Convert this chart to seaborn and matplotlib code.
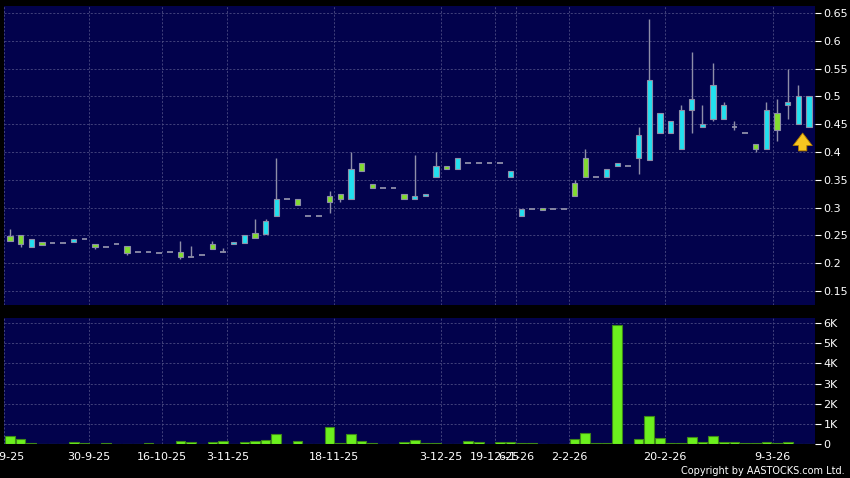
import numpy as np
import pandas as pd
import matplotlib
matplotlib.use('Agg')
from matplotlib import pyplot as plt
import seaborn as sns

# daily candles
opens = [0.249, 0.250, 0.230, 0.239, 0.236, 0.236, 0.238, 0.243, 0.234, 0.230,
         0.234, 0.231, 0.221, 0.221, 0.218, 0.220, 0.220, 0.211, 0.215, 0.234,
         0.221, 0.234, 0.237, 0.255, 0.252, 0.285, 0.315, 0.315, 0.285, 0.285,
         0.320, 0.325, 0.315, 0.380, 0.342, 0.335, 0.335, 0.325, 0.315, 0.320,
         0.355, 0.375, 0.370, 0.380, 0.380, 0.380, 0.380, 0.355, 0.285, 0.297,
         0.300, 0.297, 0.297, 0.345, 0.390, 0.355, 0.355, 0.375, 0.375, 0.390,
         0.385, 0.435, 0.435, 0.405, 0.475, 0.445, 0.460, 0.460, 0.445, 0.435,
         0.415, 0.405, 0.470, 0.485, 0.450, 0.445]
highs = [0.261, 0.250, 0.243, 0.239, 0.236, 0.236, 0.243, 0.243, 0.234, 0.230,
         0.234, 0.231, 0.221, 0.221, 0.218, 0.220, 0.240, 0.231, 0.215, 0.240,
         0.227, 0.238, 0.251, 0.280, 0.280, 0.390, 0.315, 0.315, 0.285, 0.285,
         0.330, 0.325, 0.400, 0.380, 0.342, 0.335, 0.335, 0.325, 0.395, 0.325,
         0.400, 0.375, 0.390, 0.380, 0.380, 0.380, 0.380, 0.365, 0.297, 0.297,
         0.300, 0.297, 0.297, 0.350, 0.405, 0.355, 0.370, 0.380, 0.375, 0.445,
         0.640, 0.470, 0.455, 0.485, 0.580, 0.485, 0.560, 0.490, 0.455, 0.435,
         0.415, 0.490, 0.495, 0.550, 0.520, 0.500]
lows = [0.240, 0.230, 0.230, 0.233, 0.236, 0.236, 0.238, 0.243, 0.226, 0.230,
        0.234, 0.215, 0.221, 0.221, 0.218, 0.220, 0.208, 0.211, 0.215, 0.226,
        0.221, 0.234, 0.237, 0.245, 0.252, 0.285, 0.315, 0.305, 0.285, 0.285,
        0.290, 0.310, 0.315, 0.365, 0.336, 0.335, 0.335, 0.315, 0.315, 0.320,
        0.355, 0.370, 0.370, 0.380, 0.380, 0.380, 0.380, 0.355, 0.285, 0.297,
        0.296, 0.297, 0.297, 0.320, 0.355, 0.355, 0.355, 0.375, 0.375, 0.360,
        0.385, 0.435, 0.435, 0.405, 0.435, 0.445, 0.455, 0.460, 0.440, 0.435,
        0.400, 0.405, 0.420, 0.460, 0.450, 0.445]
closes = [0.240, 0.235, 0.243, 0.233, 0.236, 0.236, 0.243, 0.243, 0.230, 0.230,
          0.234, 0.218, 0.221, 0.221, 0.218, 0.220, 0.211, 0.211, 0.215, 0.226,
          0.221, 0.238, 0.251, 0.245, 0.276, 0.315, 0.315, 0.305, 0.285, 0.285,
          0.310, 0.315, 0.370, 0.365, 0.336, 0.335, 0.335, 0.315, 0.320, 0.325,
          0.375, 0.370, 0.390, 0.380, 0.380, 0.380, 0.380, 0.365, 0.297, 0.297,
          0.296, 0.297, 0.297, 0.320, 0.355, 0.355, 0.370, 0.380, 0.375, 0.430,
          0.530, 0.470, 0.455, 0.475, 0.495, 0.450, 0.520, 0.485, 0.445, 0.435,
          0.405, 0.475, 0.440, 0.490, 0.500, 0.500]
volumes = [400, 250, 50, 0, 0, 0, 100, 50, 0, 70,
           15, 15, 0, 50, 20, 0, 170, 120, 0, 120,
           150, 0, 100, 170, 220, 520, 0, 170, 0, 0,
           850, 50, 520, 170, 50, 0, 0, 80, 220, 30,
           50, 20, 20, 150, 120, 0, 100, 120, 30, 50,
           15, 0, 0, 230, 550, 30, 30, 5920, 0, 270,
           1380, 320, 30, 50, 370, 120, 380, 100, 120, 50,
           50, 100, 70, 80, 0, 0]

date_labels = ['15-9-25', '30-9-25', '16-10-25', '3-11-25', '18-11-25', '3-12-25',
               '19-12-25', '6-1-26', '2-2-26', '20-2-26', '9-3-26']
date_pos = [-0.6, 7.4, 14.3, 20.4, 30.45, 40.45, 45.5, 47.5, 52.5, 61.5, 71.6]
price_ticks = [0.15, 0.2, 0.25, 0.3, 0.35, 0.4, 0.45, 0.5, 0.55, 0.6, 0.65]
price_labels = ['0.15', '0.2', '0.25', '0.3', '0.35', '0.4', '0.45', '0.5', '0.55', '0.6', '0.65']
vol_ticks = [0, 1000, 2000, 3000, 4000, 5000, 6000]
vol_labels = ['0', '1K', '2K', '3K', '4K', '5K', '6K']
arrow_at = 74.4  # marker under the latest candles

NAVY = '#02024c'
CYAN = '#22e0ef'
GREEN = '#82dc30'
EDGE = '#8e8ea8'
GRID = '#4a4a82'

sns.set_theme(style='dark', rc={'figure.facecolor': 'black', 'axes.facecolor': NAVY})
plt.rcParams['font.family'] = ['DejaVu Sans']

df = pd.DataFrame({'idx': np.arange(len(opens)), 'open': opens, 'high': highs,
                   'low': lows, 'close': closes, 'vol': volumes})

fig = plt.figure(figsize=(8.5, 4.78), dpi=100)
ax = fig.add_axes([3.5 / 850, 1 - 305 / 478, 811.5 / 850, 299 / 478])
axv = fig.add_axes([3.5 / 850, 1 - 444 / 478, 811.5 / 850, 126 / 478])

xlim = (-0.52, 75.56)

# wicks
ax.vlines(df['idx'], df['low'], df['high'], color=EDGE, lw=1, zorder=2)

up = df[df['close'] > df['open']]
dn = df[df['close'] < df['open']]
flat = df[df['close'] == df['open']]
ax.bar(up['idx'], up['close'] - up['open'], bottom=up['open'], width=0.5,
       color=CYAN, edgecolor=EDGE, linewidth=0.8, zorder=3)
ax.bar(dn['idx'], dn['open'] - dn['close'], bottom=dn['close'], width=0.5,
       color=GREEN, edgecolor=EDGE, linewidth=0.8, zorder=3)
ax.hlines(flat['open'], flat['idx'] - 0.27, flat['idx'] + 0.27, color=EDGE, lw=1.3, zorder=3)

ax.annotate('', xy=(arrow_at, 0.439), xytext=(arrow_at, 0.397),
            arrowprops=dict(arrowstyle='simple,head_width=1.15,head_length=0.75,tail_width=0.5',
                            fc='#f7c520', ec='#b07a00', lw=0.6), zorder=5)

sns.barplot(data=df, x='idx', y='vol', ax=axv, color='#6cf01e', width=0.9,
            edgecolor='#3e8a18', linewidth=0.8, saturation=1)

ax.set_ylim(0.1248, 0.6626)
axv.set_ylim(0, 6250)
for a in (ax, axv):
    a.set_xlim(*xlim)
    a.set_xticks(date_pos)
    a.grid(True, color=GRID, linestyle=(0, (2.5, 2)), linewidth=0.6)
    a.set_axisbelow(True)
    for s in a.spines.values():
        s.set_visible(False)
    a.yaxis.tick_right()
    a.tick_params(axis='y', colors='white', length=4, width=0.8, labelsize=8, pad=2, direction='out')
    a.set_xlabel('')
    a.set_ylabel('')

ax.set_yticks(price_ticks, price_labels)
ax.tick_params(axis='x', length=0, labelbottom=False)
axv.set_yticks(vol_ticks, vol_labels)
axv.set_xticklabels(date_labels)
axv.tick_params(axis='x', colors='white', length=4, width=0.8, labelsize=8, pad=2, direction='out')

fig.text(0.994, 0.004, 'Copyright by AASTOCKS.com Ltd.', ha='right', va='bottom',
         color='white', fontsize=7)

fig.savefig('out.png', dpi=100, facecolor='black')
